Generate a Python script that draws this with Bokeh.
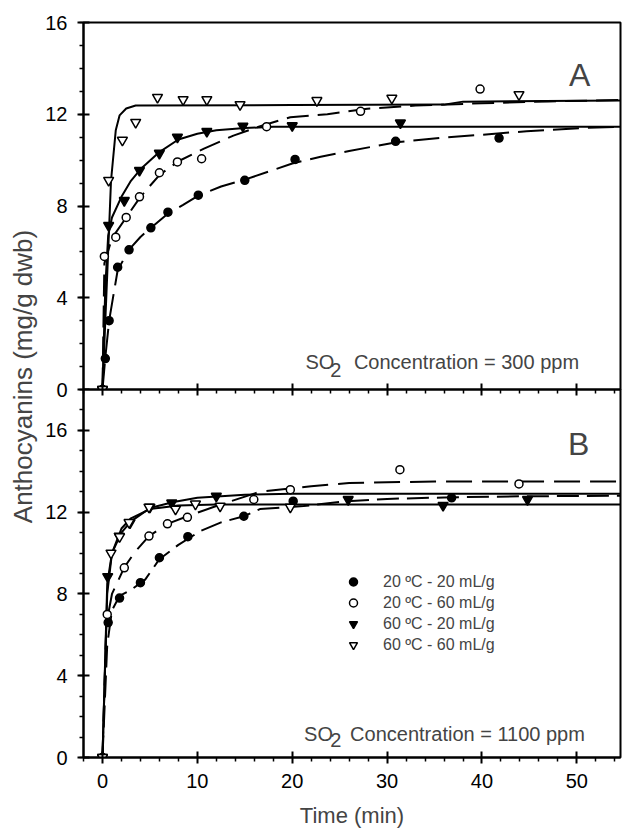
import math
from bokeh.plotting import figure
from bokeh.models import (FixedTicker, LinearAxis, Label, Legend, LegendItem, Range1d,
                          CustomJSTickFormatter)
from bokeh.layouts import row, column
from bokeh.embed import file_html
from bokeh.resources import INLINE

FONT = "Liberation Sans"

# ---------------- axes ----------------
X_START, X_END = -2, 54.6
X_TICKS = [0, 10, 20, 30, 40, 50]
X_MINOR = [-2, 2, 4, 6, 8, 12, 14, 16, 18, 22, 24, 26, 28, 32, 34, 36, 38, 42, 44, 46, 48, 52, 54]
Y_TICKS = [0, 4, 8, 12, 16]
YA_END = 16
YB_END = 18

# ---------------- Panel A (300 ppm) : measured points ----------------
A_T_2020 = [0, 0.3, 0.7, 1.6, 2.8, 5.1, 6.9, 10.1, 15.0, 20.3, 30.9, 41.8]
A_V_2020 = [0, 1.35, 3.0, 5.33, 6.09, 7.05, 7.73, 8.47, 9.12, 10.03, 10.82, 10.96]
A_T_2060 = [0, 0.2, 1.4, 2.5, 3.9, 6.0, 7.9, 10.45, 17.3, 27.2, 39.8]
A_V_2060 = [0, 5.8, 6.64, 7.5, 8.4, 9.45, 9.92, 10.06, 11.46, 12.13, 13.1]
A_T_6020 = [0, 0.65, 2.3, 3.9, 6.0, 7.9, 11.0, 14.8, 20.0, 31.4]
A_V_6020 = [0, 7.15, 8.24, 9.55, 10.3, 11.0, 11.25, 11.48, 11.5, 11.62]
A_T_6060 = [0, 0.65, 2.1, 3.5, 5.8, 8.5, 11.0, 14.5, 22.6, 30.5, 43.9]
A_V_6060 = [0, 9.12, 10.87, 11.65, 12.74, 12.64, 12.64, 12.42, 12.6, 12.7, 12.86]

# Panel A fitted curves
A_FT_2020 = [0, 0.3, 0.7, 1.6, 2.8, 4, 5.1, 6.85, 8.5, 10.1, 12.5, 15, 17.5, 20, 23, 26, 31, 35.6, 39.8, 44.7, 50.6, 54.6]
A_FV_2020 = [0, 1.4, 3.0, 5.2, 6.1, 6.65, 7.05, 7.65, 8.05, 8.45, 8.85, 9.15, 9.5, 9.85, 10.15, 10.4, 10.78, 10.97, 11.1, 11.26, 11.4, 11.45]
A_FT_2060 = [0, 0.2, 1, 2.5, 4, 6, 8, 10.7, 13.8, 16.8, 19.8, 23.7, 27.9, 33, 40, 47, 54.6]
A_FV_2060 = [0, 5.5, 6.6, 7.5, 8.4, 9.35, 9.95, 10.5, 11.07, 11.5, 11.87, 12.0, 12.24, 12.38, 12.48, 12.56, 12.62]
A_FT_6020 = [0, 0.3, 0.6, 1.0, 2, 3, 4, 6, 8, 10, 12, 15, 18, 22, 54.6]
A_FV_6020 = [0, 4.5, 6.7, 7.5, 8.4, 9.1, 9.6, 10.35, 10.9, 11.15, 11.3, 11.4, 11.45, 11.46, 11.46]
A_FT_6060 = [0, 0.5, 0.9, 1.4, 1.8, 2.5, 3.5, 20, 36, 38, 54.6]
A_FV_6060 = [0, 5.0, 9.1, 11.3, 11.95, 12.25, 12.38, 12.4, 12.42, 12.55, 12.6]

# ---------------- Panel B (1100 ppm) : measured points ----------------
B_T_2020 = [0, 0.6, 1.8, 4.0, 6.0, 9.0, 14.9, 20.1, 36.8]
B_V_2020 = [0, 6.6, 7.8, 8.55, 9.77, 10.8, 11.8, 12.54, 12.7]
B_T_2060 = [0, 0.5, 2.3, 4.9, 6.85, 8.95, 15.95, 19.8, 31.35, 43.9]
B_V_2060 = [0, 7.0, 9.28, 10.83, 11.43, 11.75, 12.62, 13.1, 14.08, 13.38]
B_T_6020 = [0, 0.55, 1.76, 2.9, 5.0, 7.3, 12.0, 25.9, 35.9, 44.8]
B_V_6020 = [0, 8.85, 10.83, 11.48, 12.25, 12.45, 12.78, 12.62, 12.33, 12.62]
B_T_6060 = [0, 0.9, 1.8, 2.8, 4.9, 7.7, 9.8, 12.4, 19.8]
B_V_6060 = [0, 10.0, 10.8, 11.5, 12.25, 12.15, 12.4, 12.3, 12.25]

# Panel B fitted curves
B_FT_2020 = [0, 0.5, 1.0, 1.8, 3, 4.5, 6, 8, 10.3, 12.5, 14.9, 16.6, 21.2, 25.8, 30, 36, 45, 54.6]
B_FV_2020 = [0, 5.5, 7.2, 7.9, 8.2, 8.7, 9.7, 10.4, 11.07, 11.5, 11.8, 12.15, 12.3, 12.54, 12.65, 12.72, 12.78, 12.8]
B_FT_2060 = [0, 0.4, 1.0, 2.3, 3.5, 4.9, 6.85, 8.95, 12, 16.6, 22, 26, 35, 54.6]
B_FV_2060 = [0, 6.5, 8.0, 9.3, 10.1, 10.83, 11.43, 11.8, 12.3, 13.0, 13.27, 13.43, 13.5, 13.5]
B_FT_6020 = [0, 0.5, 1, 2, 3, 5, 7.5, 10, 15, 20, 54.6]
B_FV_6020 = [0, 8.5, 10.0, 11.0, 11.55, 12.2, 12.5, 12.7, 12.85, 12.9, 12.9]
B_FT_6060 = [0, 0.5, 1, 2, 3, 5, 8, 12, 54.6]
B_FV_6060 = [0, 8.0, 10.0, 11.2, 11.7, 12.15, 12.33, 12.37, 12.37]

LEGEND_LABELS = ["20 \u00baC - 20 mL/g", "20 \u00baC - 60 mL/g", "60 \u00baC - 20 mL/g", "60 \u00baC - 60 mL/g"]

FIG_W = 584
BORDER_L = 45
BORDER_R = 2
OVERLAP = 12          # room below the top frame for its "0" tick label
TOP_H = 22 + 367 + OVERLAP
BOT_H = 368 + 76
LAB_W = 38


def style_axis(ax, labels=True, tick_in=6, tick_out=6, minor_in=0, minor_out=4):
    ax.axis_line_color = "black"
    ax.axis_line_width = 2
    ax.major_tick_line_color = "black"
    ax.major_tick_line_width = 2
    ax.minor_tick_line_color = "black"
    ax.minor_tick_line_width = 1.5
    ax.major_tick_in = tick_in
    ax.major_tick_out = tick_out
    ax.minor_tick_in = minor_in
    ax.minor_tick_out = minor_out
    if labels:
        ax.major_label_text_font = FONT
        ax.major_label_text_font_size = "20px"
        ax.major_label_text_color = "black"
    else:
        ax.formatter = CustomJSTickFormatter(code="return ''")
        ax.major_label_text_font_size = "1px"
        ax.major_label_standoff = 0
        ax.axis_label_standoff = 0


def base_fig(height, y_end, b_top, b_bottom):
    p = figure(width=FIG_W, height=height, x_range=Range1d(X_START, X_END),
               y_range=Range1d(0, y_end), output_backend="svg", toolbar_location=None,
               x_axis_location=None, y_axis_location=None,
               min_border_left=BORDER_L, min_border_right=BORDER_R,
               min_border_top=b_top, min_border_bottom=b_bottom)
    p.grid.visible = False
    p.outline_line_color = "black"
    p.outline_line_width = 2
    p.background_fill_color = "white"
    p.border_fill_color = "white"
    yax = LinearAxis(ticker=FixedTicker(ticks=Y_TICKS, minor_ticks=list(range(0, y_end + 1))))
    style_axis(yax)
    yax.major_label_standoff = 10
    p.add_layout(yax, "left")
    return p


def draw(p, fits, pts):
    for t, v, dash in fits:
        p.line(t, v, line_color="black", line_width=2, line_dash=dash)
    rs = []
    for t, v, marker, filled in pts:
        size = 8 if marker == "circle" else 10
        r = p.scatter(t, v, marker=marker, size=size, line_color="black", line_width=1.5,
                      fill_color="black" if filled else "white")
        rs.append(r)
    return rs


def so2_label(p, x_so, x_2, x_rest, y_base, y_sub, text):
    p.add_layout(Label(x=x_so, y=y_base, text="SO", text_font=FONT, text_font_size="20px",
                       text_baseline="alphabetic", text_align="left"))
    p.add_layout(Label(x=x_2, y=y_sub, text="2", text_font=FONT, text_font_size="20px",
                       text_baseline="alphabetic", text_align="left"))
    p.add_layout(Label(x=x_rest, y=y_base, text=text, text_font=FONT, text_font_size="20px",
                       text_baseline="alphabetic", text_align="left"))


# ---------------- top panel ----------------
top = base_fig(TOP_H, YA_END, 22, OVERLAP)
xa_top = LinearAxis(ticker=FixedTicker(ticks=X_TICKS, minor_ticks=[]))
style_axis(xa_top, labels=False, tick_in=6, tick_out=0, minor_in=0, minor_out=0)
top.add_layout(xa_top, "below")

draw(top,
     [(A_FT_6060, A_FV_6060, "solid"), (A_FT_6020, A_FV_6020, "solid"),
      (A_FT_2060, A_FV_2060, "22 9"), (A_FT_2020, A_FV_2020, "26 9")],
     [(A_T_2020, A_V_2020, "circle", True), (A_T_2060, A_V_2060, "circle", False),
      (A_T_6020, A_V_6020, "inverted_triangle", True), (A_T_6060, A_V_6060, "inverted_triangle", False)])

top.add_layout(Label(x=50.3, y=13.7, text="A", text_font=FONT, text_font_size="32px",
                     text_align="center", text_baseline="alphabetic"))
so2_label(top, 21.4, 24.0, 26.5, 1.18, 0.83, "Concentration = 300 ppm")

# ---------------- bottom panel ----------------
bot = base_fig(BOT_H, YB_END, 0, 76)
bot.border_fill_color = None
bot.styles = {"margin-top": "-%dpx" % OVERLAP}

xa_up = LinearAxis(ticker=FixedTicker(ticks=X_TICKS, minor_ticks=X_MINOR))
style_axis(xa_up, labels=False, tick_in=6, tick_out=0, minor_in=4, minor_out=0)
bot.add_layout(xa_up, "above")

xa_b = LinearAxis(ticker=FixedTicker(ticks=X_TICKS, minor_ticks=X_MINOR))
style_axis(xa_b)
xa_b.major_label_standoff = 10
xa_b.axis_label = "Time (min)"
xa_b.axis_label_text_font = FONT
xa_b.axis_label_text_font_size = "22px"
xa_b.axis_label_text_font_style = "normal"
xa_b.axis_label_standoff = 12
bot.add_layout(xa_b, "below")

rs = draw(bot,
          [(B_FT_6060, B_FV_6060, "solid"), (B_FT_6020, B_FV_6020, "solid"),
           (B_FT_2060, B_FV_2060, "26 10"), (B_FT_2020, B_FV_2020, "22 8")],
          [(B_T_2020, B_V_2020, "circle", True), (B_T_2060, B_V_2060, "circle", False),
           (B_T_6020, B_V_6020, "inverted_triangle", True), (B_T_6060, B_V_6060, "inverted_triangle", False)])

legend = Legend(items=[LegendItem(label=lab, renderers=[r]) for lab, r in zip(LEGEND_LABELS, rs)],
                location=(260, 102), orientation="vertical")
legend.label_text_font = FONT
legend.label_text_font_size = "16px"
legend.glyph_width = 20
legend.glyph_height = 21
legend.label_height = 21
legend.label_standoff = 20
legend.spacing = 0
legend.padding = 0
legend.margin = 0
legend.border_line_color = None
legend.background_fill_alpha = 0
bot.add_layout(legend, "center")

bot.add_layout(Label(x=50.2, y=15.35, text="B", text_font=FONT, text_font_size="32px",
                     text_align="center", text_baseline="alphabetic"))
so2_label(bot, 21.25, 24.0, 26.1, 1.17, 0.88, "Concentration = 1100 ppm")

# ---------------- y-axis title column ----------------
TOTAL_H = TOP_H + BOT_H - OVERLAP
lab_fig = figure(width=LAB_W, height=TOTAL_H, x_range=Range1d(0, LAB_W), y_range=Range1d(0, TOTAL_H),
                 output_backend="svg", toolbar_location=None,
                 x_axis_location=None, y_axis_location=None,
                 min_border=0, min_border_left=0, min_border_right=0,
                 min_border_top=0, min_border_bottom=0)
lab_fig.grid.visible = False
lab_fig.outline_line_color = None
lab_fig.add_layout(Label(x=22, y=TOTAL_H - 376, text="Anthocyanins (mg/g dwb)", angle=math.pi / 2,
                         text_font=FONT, text_font_size="26px", text_align="center",
                         text_baseline="middle"))

layout = row(lab_fig, column(top, bot, spacing=0), spacing=0)

open("out.html", "w").write(file_html(layout, INLINE))
